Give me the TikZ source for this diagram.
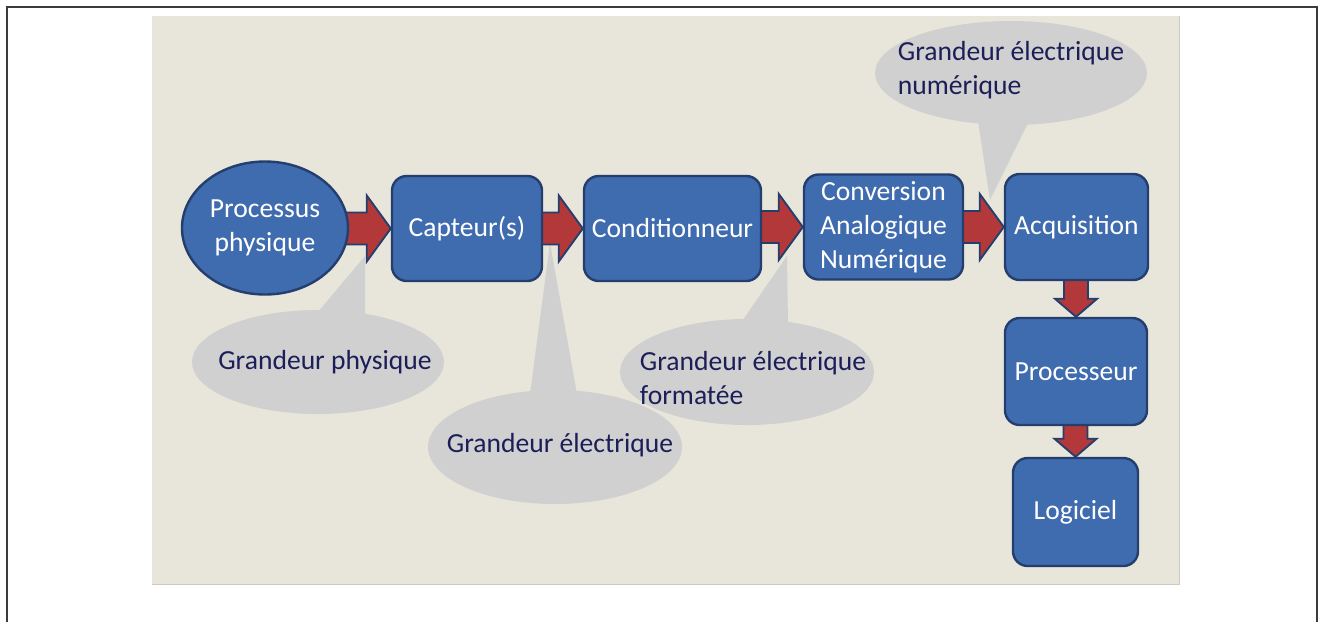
\documentclass[tikz,border=0pt]{standalone}
\usepackage{fontspec}
\setmainfont{Carlito}
\usetikzlibrary{calc,shapes.geometric}
\pgfdeclarelayer{back}
\pgfdeclarelayer{callouts}
\pgfdeclarelayer{arrows}
\pgfsetlayers{back,callouts,arrows,main}
\definecolor{beige}{RGB}{232,230,218}
\definecolor{beigeedge}{RGB}{205,203,192}
\definecolor{boxblue}{RGB}{63,107,175}
\definecolor{boxedge}{RGB}{36,62,110}
\definecolor{arrowred}{RGB}{178,56,58}
\definecolor{callgray}{RGB}{208,208,208}
\definecolor{calltext}{RGB}{28,30,88}
\definecolor{framegray}{RGB}{60,60,60}
\tikzset{
  bigfont/.style={font=\fontsize{20.7pt}{25.5pt}\selectfont},
  bluebox/.style={bigfont, draw=boxedge, fill=boxblue, line width=1.8pt,
    rounded corners=11pt, text=white, align=center, inner sep=0pt},
  blueellipse/.style={bigfont, ellipse, draw=boxedge, fill=boxblue, line width=1.8pt,
    text=white, align=center, inner sep=0pt},
  calltxt/.style={bigfont, text=calltext, align=left, inner sep=0pt},
  callshape/.style={fill=callgray},
  blockarrow/.style={draw=boxedge, fill=arrowred, line width=1.4pt, line join=miter},
}
\newcommand\harrowdraw[2]{%
  \path[blockarrow] let \p1=(#1.east), \p2=(#2.west) in
    ({\x1-6pt},{\y2+12pt}) -- ({\x2-18pt},{\y2+12pt}) -- ({\x2-18pt},{\y2+24.75pt})
    -- (\x2,\y2) -- ({\x2-18pt},{\y2-24.75pt}) -- ({\x2-18pt},{\y2-12pt})
    -- ({\x1-6pt},{\y2-12pt}) -- cycle;}
\newcommand\varrowdraw[2]{%
  \path[blockarrow] let \p1=(#1.south), \p2=(#2.north) in
    ({\x2-9pt},{\y1+6pt}) -- ({\x2-9pt},{\y2+13.5pt}) -- ({\x2-15.75pt},{\y2+13.5pt})
    -- (\x2,\y2) -- ({\x2+15.75pt},{\y2+13.5pt}) -- ({\x2+9pt},{\y2+13.5pt})
    -- ({\x2+9pt},{\y1+6pt}) -- cycle;}
\begin{document}
\begin{tikzpicture}[x=0.75pt,y=-0.75pt]
\useasboundingbox (0,0) rectangle (1325,622);
\begin{pgfonlayer}{back}
  \fill[white] (0,0) rectangle (1325,622);
  \fill[beige] (152,16) rectangle (1179,584);
  \draw[beigeedge, line width=0.75pt] (152,584) -- (1179,584) -- (1179,16);
  \draw[framegray, line width=1.5pt] (7,622) -- (7,7) -- (1317,7) -- (1317,622);
\end{pgfonlayer}
% main blocks
\node[blueellipse, minimum width=124.5pt, minimum height=99.75pt] (proc) at (265,228) {Processus\\physique};
\node[bluebox, minimum width=112.5pt, minimum height=78.75pt] (capt) at (467,228.5) {Capteur(s)};
\node[bluebox, minimum width=132.75pt, minimum height=78.75pt] (cond) at (672.5,228.5) {Conditionneur};
\node[bluebox, minimum width=119.25pt, minimum height=78.75pt] (conv) at (883.5,227) {Conversion\\Analogique\\Numérique};
\node[bluebox, minimum width=107.25pt, minimum height=79.5pt] (acq) at (1076.5,227) {Acquisition};
\node[bluebox, minimum width=106.5pt, minimum height=80.25pt] (procr) at (1076,371.5) {Processeur};
\node[bluebox, minimum width=93.75pt, minimum height=81pt] (logi) at (1075.5,512) {Logiciel};
% arrows
\begin{pgfonlayer}{arrows}
  \harrowdraw{proc}{capt}
  \harrowdraw{capt}{cond}
  \harrowdraw{cond}{conv}
  \harrowdraw{conv}{acq}
  \varrowdraw{acq}{procr}
  \varrowdraw{procr}{logi}
\end{pgfonlayer}
% callouts
\coordinate (c1) at (318,362);
\coordinate (c2) at (555,447);
\coordinate (c3) at (747,372);
\coordinate (c4) at (1011,73);
\coordinate (p1) at (365,256);
\coordinate (p2) at (550,243);
\coordinate (p3) at (787,256);
\coordinate (p4) at (990,200);
\begin{pgfonlayer}{callouts}
  \fill[callgray] (c1) ellipse [x radius=94.5pt, y radius=39pt];
  \fill[callgray] (317,313) -- (p1) -- (365,316) -- cycle;
  \fill[callgray] (c2) ellipse [x radius=95.25pt, y radius=42.75pt];
  \fill[callgray] (530,394) -- (p2) -- (577,394) -- cycle;
  \fill[callgray] (c3) ellipse [x radius=95.25pt, y radius=39.75pt];
  \fill[callgray] (740,324) -- (p3) -- (788,324) -- cycle;
  \fill[callgray] (c4) ellipse [x radius=102pt, y radius=39pt];
  \fill[callgray] (978,121) -- (p4) -- (1028,123) -- cycle;
\end{pgfonlayer}
\node[calltxt] (t1) at (325,362) {Grandeur physique};
\node[calltxt] (t2) at (560,445) {Grandeur électrique};
\node[calltxt] (t3) at (753,378) {Grandeur électrique\\formatée};
\node[calltxt] (t4) at (1011,70) {Grandeur électrique\\numérique};
\end{tikzpicture}
\end{document}
